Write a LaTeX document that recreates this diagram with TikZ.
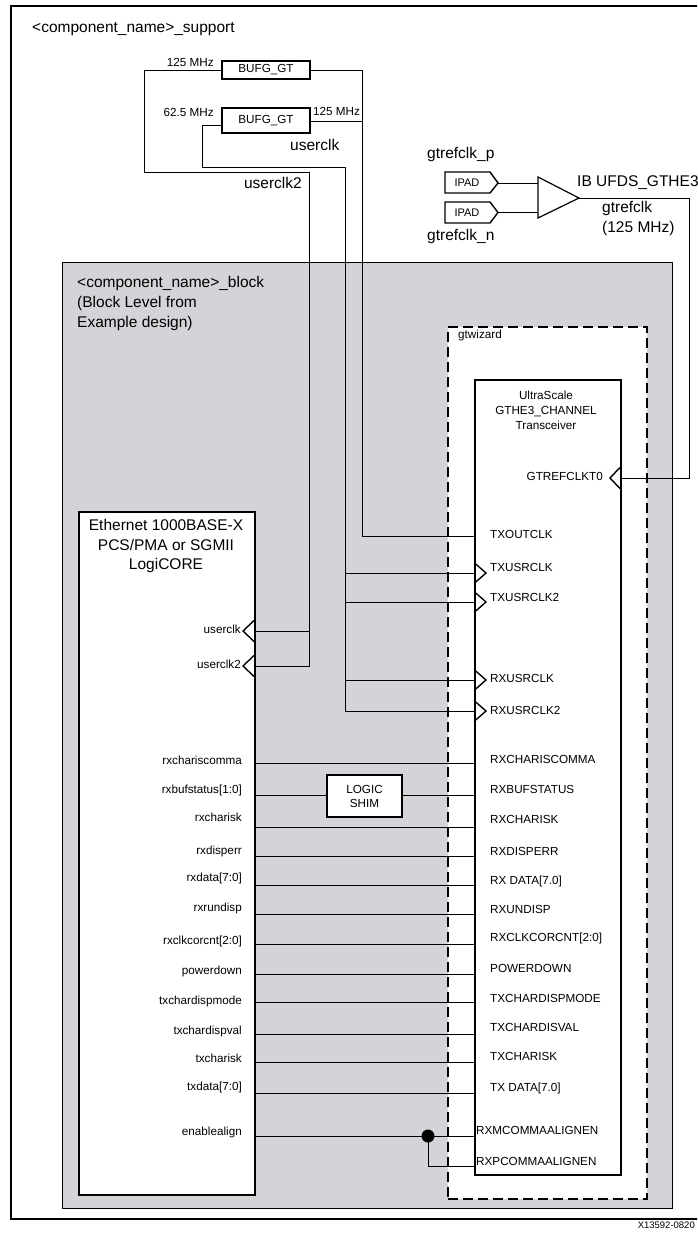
\documentclass[tikz,border=0pt]{standalone}
\usepackage{fontspec}
\setmainfont{Liberation Sans}
\usetikzlibrary{calc}
\definecolor{blockgray}{RGB}{211,212,215}
\begin{document}
\begin{tikzpicture}[x=1pt,y=-1pt,
  frame/.style={draw, line width=1.5pt, inner sep=0pt, anchor=north west},
  wire/.style={line width=0.9pt},
  clkpin/.style={line width=1.4pt, line join=miter},
  sm/.style={inner sep=0pt, font=\fontsize{11.7}{14}\selectfont},
  lg/.style={inner sep=0pt, font=\fontsize{15.5}{19.5}\selectfont},
]
\useasboundingbox (0,0) rectangle (697,1237);
\begin{scope}
\clip (0,0) rectangle (697,1237);
% ---------- boxes ----------
\node[frame, minimum width=700pt, minimum height=1213pt] (support) at (10,5) {};
\node[frame, fill=blockgray, line width=1.3pt, minimum width=610pt, minimum height=946pt] (block) at (62,262) {};
\node[frame, fill=white, dash pattern=on 10pt off 5pt, line width=1.8pt, minimum width=199pt, minimum height=872pt] (gtwiz) at (447,326) {};
\node[frame, fill=white, minimum width=146pt, minimum height=795pt] (xcvr) at (474,379) {};
\node[frame, fill=white, minimum width=176pt, minimum height=683pt] (eth) at (78,511) {};
\node[frame, sm, fill=white, anchor=center, minimum width=88pt, minimum height=18pt] (bufA) at (266,70) {BUFG\_GT};
\node[frame, sm, fill=white, anchor=center, minimum width=88pt, minimum height=25pt] (bufB) at (266,120.5) {BUFG\_GT};
\node[frame, sm, fill=white, anchor=center, align=center, minimum width=75pt, minimum height=42pt, font=\fontsize{11.7}{14}\selectfont] (shim) at (364.5,796) {LOGIC\\SHIM};
% IPADs and IBUFDS
\draw[line width=1.4pt] (445,172) -- (490,172) -- (498,183) -- (490,193) -- (445,193) -- cycle;
\node[sm, font=\fontsize{11}{13}\selectfont] (ipadA) at (467,183) {IPAD};
\draw[line width=1.4pt] (445,202) -- (490,202) -- (498,212.5) -- (490,223) -- (445,223) -- cycle;
\node[sm, font=\fontsize{11}{13}\selectfont] (ipadB) at (467,212.5) {IPAD};
\draw[line width=1.2pt, line join=miter] (538,177) -- (579,198) -- (538,218) -- cycle;
\coordinate (ipadAo) at (498,183);
\coordinate (ipadBo) at (498,212.5);
\coordinate (ibA) at (538,183);
\coordinate (ibB) at (538,212.5);
\coordinate (ibO) at (579,198);
% ---------- pin coordinates ----------
\coordinate (gtref) at (621,478);
\coordinate (txout) at (474,536);
\coordinate (txusr) at (474,573);
\coordinate (txusr2) at (474,602);
\coordinate (rxusr) at (474,680);
\coordinate (rxusr2) at (474,711);
\coordinate (ucl) at (254,631);
\coordinate (ucl2) at (254,666);
\coordinate (bufAw) at (222,70);
\coordinate (bufAe) at (310,70);
\coordinate (bufBw) at (222,125);
\coordinate (bufBe) at (310,121);
% ---------- clock wires ----------
\draw[wire] (ipadAo) -- (ibA);
\draw[wire] (ipadBo) -- (ibB);
\draw[wire] (ibO) -- (689,198) -- (689,478) -- (gtref);
\draw[wire] (bufAw) -- (144,70) -- (144,172) -- (309,172) -- (309,666) -- (ucl2);
\draw[wire] (309,631) -- (ucl);
\draw[wire] (bufAe) -- (362,70) -- (362,536) -- (txout);
\draw[wire] (bufBe) -- (362,121);
\draw[wire] (bufBw) -- (202,125) -- (202,167) -- (345,167) -- (345,711) -- (rxusr2);
\draw[wire] (345,573) -- (txusr);
\draw[wire] (345,602) -- (txusr2);
\draw[wire] (345,680) -- (rxusr);
% ---------- clock pin triangles ----------
\draw[clkpin] (254,620.5) -- (243,631) -- (254,641.5);
\draw[clkpin] (254,655.5) -- (243,666) -- (254,676.5);
\draw[clkpin] (474,562.5) -- (486,573) -- (474,583.5);
\draw[clkpin] (474,591.5) -- (486,602) -- (474,612.5);
\draw[clkpin] (474,669.5) -- (486,680) -- (474,690.5);
\draw[clkpin] (474,700.5) -- (486,711) -- (474,721.5);
\draw[clkpin] (620,467.5) -- (610,478) -- (620,488.5);
% ---------- data wires ----------
\foreach \yy/\nm in {763/a,827/c,856/d,885/e,914/f,944/g,974/h,1002/i,1034/j,1062/k,1093/l,1136/m}{
  \coordinate (el\nm) at (254,\yy);
  \coordinate (xl\nm) at (474,\yy);
  \draw[wire] (el\nm) -- (xl\nm);
}
\coordinate (elb) at (254,795);
\coordinate (xlb) at (474,795);
\draw[wire] (elb) -- (shim.west |- elb);
\draw[wire] (shim.east |- xlb) -- (xlb);
\coordinate (junc) at (428,1136);
\coordinate (xln) at (474,1166);
\fill (junc) circle (6.5pt);
\draw[wire] (junc) -- (428,1166) -- (xln);
% ---------- titles ----------
\node[lg, anchor=base west] (suptitle) at (32,32) {<component\_name>\_support};
\node[lg, anchor=base west] (bt1) at (77,287) {<component\_name>\_block};
\node[lg, anchor=base west] (bt2) at (77,307) {(Block Level from};
\node[lg, anchor=base west] (bt3) at (77,327) {Example design)};
\node[lg, align=center] (ethtitle) at (166,546) {Ethernet 1000BASE-X\\PCS/PMA or SGMII\\LogiCORE};
\node[sm, align=center, font=\fontsize{11.7}{15}\selectfont] (xtitle) at (546,410) {UltraScale\\GTHE3\_CHANNEL\\Transceiver};
\node[sm, anchor=mid west] (gwl) at (458,336) {gtwizard};
% clock labels
\node[sm, anchor=mid east] (f1) at (214,64) {125 MHz};
\node[sm, anchor=mid east] (f2) at (214,114) {62.5 MHz};
\node[sm, anchor=mid west] (f3) at (313,113) {125 MHz};
\node[lg, anchor=mid west] (uclk) at (290,148) {userclk};
\node[lg, anchor=mid east] (uclk2) at (302,186) {userclk2};
\node[lg, anchor=mid west] (ibl) at (577,184) {IB UFDS\_GTHE3};
\node[lg, anchor=mid west] (grc) at (602,210) {gtrefclk};
\node[lg, anchor=mid west] (grf) at (602,230) {(125 MHz)};
\node[lg, anchor=mid west] (grp) at (427,156) {gtrefclk\_p};
\node[lg, anchor=mid west] (grn) at (427,238) {gtrefclk\_n};
% eth pin labels
\node[sm, anchor=mid east] at (241,631) {userclk};
\node[sm, anchor=mid east] at (241,666) {userclk2};
\foreach \yy/\tx in {762/rxchariscomma,791/rxbufstatus[1:0],819/rxcharisk,852/rxdisperr,879/rxdata[7:0],909/rxrundisp,942/rxclkcorcnt[2:0],972/powerdown,1002/txchardispmode,1032/txchardispval,1060/txcharisk,1088/txdata[7:0],1133/enablealign}{
  \node[sm, anchor=mid east] at (242,\yy) {\tx};
}
% transceiver pin labels
\node[sm, anchor=mid east] (gtrl) at (603,478) {GTREFCLKT0};
\foreach \yy/\tx in {536/TXOUTCLK,569/TXUSRCLK,599/TXUSRCLK2,680/RXUSRCLK,712/RXUSRCLK2,761/RXCHARISCOMMA,791/RXBUFSTATUS,821/RXCHARISK,853/RXDISPERR,882/RX DATA[7.0],911/RXUNDISP,939/RXCLKCORCNT[2:0],970/POWERDOWN,1000/TXCHARDISPMODE,1029/TXCHARDISVAL,1058/TXCHARISK,1089/TX DATA[7.0]}{
  \node[sm, anchor=mid west] at (490,\yy) {\tx};
}
\node[sm, anchor=mid west] (rxm) at (476,1132) {RXMCOMMAALIGNEN};
\node[sm, anchor=mid west] (rxp) at (476,1163) {RXPCOMMAALIGNEN};
% footer
\node[inner sep=0pt, font=\fontsize{9.5}{11}\selectfont, anchor=mid east] (foot) at (695,1226) {X13592-0820};
\end{scope}
\end{tikzpicture}
\end{document}
